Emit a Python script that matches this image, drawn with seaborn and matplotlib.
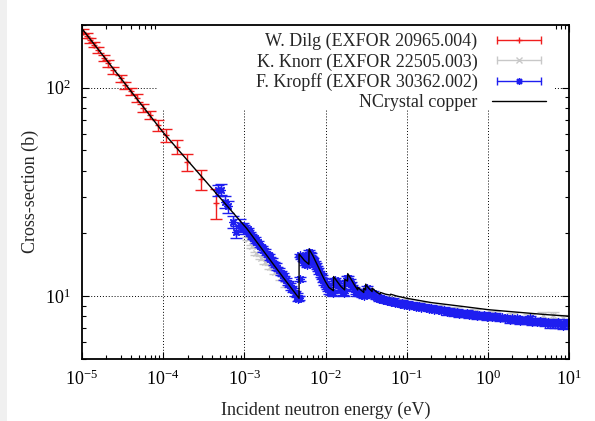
import matplotlib
matplotlib.use("Agg")
import matplotlib.pyplot as plt
from matplotlib.lines import Line2D
from matplotlib.patches import Rectangle
from matplotlib.legend_handler import HandlerLine2D, HandlerTuple
from matplotlib.ticker import FixedLocator, NullFormatter
import seaborn as sns

# ------------------------------------------
# DATA
# ------------------------------------------

# W. Dilg (EXFOR 20965.004)
dilg_e = [1.04e-5, 1.16e-5, 1.25e-5, 1.40e-5, 1.59e-5, 1.87e-5, 2.11e-5, 2.43e-5,
          3.02e-5, 3.39e-5, 3.97e-5, 4.72e-5, 5.69e-5, 6.87e-5, 8.72e-5, 1.08e-4,
          1.46e-4, 1.98e-4, 2.96e-4, 4.53e-4]
dilg_s = [186, 178, 169, 161, 152, 139, 131, 121, 111, 103, 96, 89, 80, 74, 66, 59,
          52, 44, 36.3, 27.9]
dilg_err = [5, 5, 5, 5, 5, 5, 5, 4.5, 4.5, 4, 4, 4, 3.5, 3.5, 4, 4, 4, 4, 4, 4.6]

# K. Knorr (EXFOR 22505.003)
knorr_e = [1.12e-3, 1.25e-3, 1.4e-3, 1.6e-3, 1.8e-3, 2.07e-3, 2.4e-3, 2.8e-3, 3.3e-3,
           0.06, 0.09, 0.15, 0.25, 0.4, 0.7, 1.2, 2.0, 3.2, 4.8, 6.4, 8.5]
knorr_s = [18.8, 17.3, 16.0, 15.3, 14.6, 13.8, 13.0, 12.3, 11.4,
           9.6, 9.4, 9.1, 8.8, 8.6, 8.4, 8.2, 8.0, 7.9, 8.1, 8.1, 7.8]
knorr_err = [0.3] * len(knorr_e)

# F. Kropff (EXFOR 30362.002)
kropff_e = [4.78e-4, 5.1e-4, 5.78e-4, 6.3e-4, 7.16e-4, 8.0e-4, 8.8e-4, 9.5e-4,
            1.00e-3, 1.05e-3, 1.10e-3, 1.16e-3, 1.22e-3, 1.28e-3, 1.34e-3, 1.41e-3,
            1.48e-3, 1.56e-3, 1.64e-3, 1.72e-3, 1.81e-3, 1.90e-3, 2.00e-3, 2.10e-3,
            2.21e-3, 2.32e-3, 2.44e-3, 2.56e-3, 2.69e-3, 2.83e-3, 2.97e-3, 3.12e-3,
            3.28e-3, 3.45e-3, 3.62e-3, 3.81e-3, 4.00e-3, 4.20e-3, 4.41e-3, 4.60e-3,
            4.70e-3, 4.80e-3, 4.92e-3, 5.05e-3, 5.20e-3, 5.35e-3, 5.50e-3, 5.66e-3,
            5.83e-3, 6.00e-3, 6.15e-3, 6.32e-3, 6.50e-3, 6.70e-3, 6.90e-3, 7.10e-3,
            7.35e-3, 7.60e-3, 7.85e-3, 8.10e-3, 8.40e-3, 8.70e-3, 9.00e-3, 9.35e-3,
            9.70e-3, 1.00e-2, 1.04e-2, 1.08e-2, 1.12e-2, 1.17e-2, 1.22e-2, 1.27e-2,
            1.32e-2, 1.37e-2, 1.43e-2, 1.49e-2, 1.55e-2, 1.62e-2, 1.69e-2, 1.75e-2,
            1.82e-2, 1.90e-2, 1.98e-2, 2.06e-2, 2.15e-2, 2.25e-2, 2.35e-2, 2.46e-2,
            2.57e-2, 2.69e-2, 2.81e-2, 2.94e-2, 3.07e-2, 3.20e-2, 3.35e-2, 3.50e-2,
            3.66e-2, 3.83e-2, 4.00e-2, 4.20e-2, 4.40e-2, 4.60e-2, 4.85e-2, 5.10e-2,
            5.40e-2, 5.70e-2, 6.00e-2, 6.40e-2, 6.80e-2, 7.20e-2, 7.70e-2, 8.20e-2,
            8.80e-2, 9.40e-2, 0.100, 0.107, 0.115, 0.123, 0.132, 0.142, 0.152, 0.163,
            0.175, 0.188, 0.202, 0.217, 0.233, 0.250, 0.268, 0.288, 0.310, 0.333,
            0.358, 0.385, 0.413, 0.444, 0.477, 0.512, 0.550, 0.591, 0.635, 0.682,
            0.733, 0.787, 0.846, 0.909, 0.976, 1.05, 1.13, 1.21, 1.30, 1.40, 1.50,
            1.61, 1.73, 1.86, 2.00, 2.15, 2.31, 2.48, 2.66, 2.86, 3.07, 3.30, 3.55,
            3.81, 4.09, 4.40, 4.72, 5.07, 5.45, 5.86, 6.29, 6.76, 7.26, 7.80, 8.38,
            9.00, 9.67, 10.0]
kropff_s = [32.1, 32.4, 28.3, 26.9, 22.7, 20.3, 21.9, 21.1,
            21.6, 20.6, 20.9, 20.0, 19.7, 19.0, 18.9, 18.2,
            18.1, 17.4, 17.2, 16.6, 16.5, 15.9, 15.7, 15.1,
            14.9, 14.3, 14.1, 13.6, 13.4, 12.9, 12.7, 12.2,
            12.0, 11.5, 11.3, 10.9, 10.7, 10.3, 10.1, 9.7,
            9.8, 12.1, 15.7, 15.3, 15.4, 14.9, 14.8, 14.4,
            14.4, 14.1, 14.5, 16.3, 16.0, 15.8, 15.2, 15.0,
            14.5, 14.2, 13.7, 13.4, 13.0, 12.6, 12.3, 11.9,
            11.6, 11.3, 11.0, 10.8, 10.5, 10.4, 10.3, 11.8,
            12.0, 11.6, 11.3, 10.9, 10.7, 10.4, 10.3, 11.6,
            12.2, 12.2, 11.8, 11.4, 11.1, 10.8, 10.5, 10.3,
            10.5, 10.3, 10.1, 10.0, 10.5, 10.9, 10.6, 10.3,
            10.1, 10.3, 10.1, 9.9, 9.9, 9.7, 9.8, 9.6,
            9.6, 9.5, 9.5, 9.4, 9.5, 9.3, 9.3, 9.2,
            9.3, 9.1, 9.2, 9.0, 9.1, 9.0, 8.9, 9.0, 8.8, 8.9,
            8.8, 8.7, 8.8, 8.6, 8.7, 8.6, 8.5, 8.6, 8.4, 8.5,
            8.4, 8.3, 8.4, 8.2, 8.3, 8.2, 8.3, 8.1, 8.2, 8.1,
            8.0, 8.1, 8.0, 8.1, 7.9, 8.0, 7.9, 8.0, 7.9, 7.8, 7.9,
            7.8, 7.8, 7.7, 7.8, 7.7, 7.8, 7.6, 7.7, 7.7, 7.6, 7.8, 7.5,
            7.6, 7.5, 7.6, 7.5, 7.4, 7.5, 7.3, 7.4, 7.3, 7.5, 7.3, 7.2,
            7.3, 7.4, 7.5]
kropff_err = [2.0, 2.0, 1.8, 1.8, 1.5, 1.4, 1.4, 1.3] + [0.25] * (len(kropff_e) - 8)

# NCrystal copper
ncrystal_e = [1e-5, 1e-4, 1.07e-3, 2e-3, 3e-3, 4.72e-3, 4.73e-3, 5.0e-3, 5.5e-3,
              6.24e-3, 6.27e-3, 7e-3, 8e-3, 9e-3, 1e-2, 1.1e-2, 1.25e-2, 1.26e-2,
              1.4e-2, 1.55e-2, 1.72e-2, 1.73e-2, 1.87e-2, 1.88e-2, 2.1e-2, 2.3e-2,
              2.49e-2, 2.5e-2, 2.96e-2, 2.97e-2, 3.12e-2, 3.13e-2, 3.4e-2, 3.75e-2,
              3.76e-2, 4.2e-2, 4.7e-2, 4.75e-2, 5.5e-2, 6.3e-2, 6.35e-2, 7.5e-2,
              0.1, 0.2, 0.5, 1, 2, 5, 10]
ncrystal_s = [192, 61, 21.1, 15.2, 12.3, 9.75, 15.9, 15.5, 14.8,
              14.2, 16.8, 15.6, 14.0, 12.7, 11.7, 11.0, 10.6, 12.4,
              11.7, 11.1, 10.7, 12.0, 11.8, 12.8, 11.9, 11.2,
              10.7, 11.0, 10.4, 10.9, 10.7, 11.4, 10.9, 10.5,
              10.9, 10.5, 10.2, 10.4, 10.2, 10.1, 10.2, 10.0,
              9.75, 9.3, 8.9, 8.6, 8.4, 8.15, 8.0]

labels = ["W. Dilg (EXFOR 20965.004)", "K. Knorr (EXFOR 22505.003)",
          "F. Kropff (EXFOR 30362.002)", "NCrystal copper"]

x_decades = [1e-5, 1e-4, 1e-3, 1e-2, 1e-1, 1, 10]
y_decades = [10, 100]

RED = "#f01e1e"
GRAY = "#c8c8c8"
BLUE = "#1e1ef0"

# ------------------------------------------
# STYLE
# ------------------------------------------

sns.set_theme(style="ticks")
plt.rcParams["font.family"] = ["Liberation Serif", "DejaVu Serif"]
plt.rcParams["mathtext.fontset"] = "custom"
plt.rcParams["mathtext.rm"] = "Liberation Serif"
plt.rcParams["mathtext.it"] = "Liberation Serif:italic"
plt.rcParams["font.size"] = 13

fig = plt.figure(figsize=(5.95, 4.21), dpi=100)
fig.patches.append(Rectangle((0, 0), 7 / 595, 1, transform=fig.transFigure,
                             facecolor="#f0f0f0", edgecolor="none", zorder=-1))
ax = fig.add_axes([82 / 595, 1 - 358.7 / 421, 487 / 595, 333.7 / 421])
ax.set_xscale("log")
ax.set_yscale("log")

# dotted grid at decades, hidden behind the key area
for xv in x_decades[1:-1]:
    ax.axvline(xv, color="black", lw=0.7, ls=(0, (1, 2)), zorder=0.5)
for yv in y_decades:
    ax.axhline(yv, color="black", lw=0.7, ls=(0, (1, 2)), zorder=0.5)
ax.add_patch(Rectangle((0.154, 0.745), 0.817, 0.26, transform=ax.transAxes,
                       facecolor="white", edgecolor="none", zorder=0.8))

# ------------------------------------------
# DATA SERIES
# ------------------------------------------

ax.errorbar(dilg_e, dilg_s, yerr=dilg_err, fmt="none", ecolor=RED, elinewidth=1,
            capsize=4.5, capthick=1, zorder=2)
sns.scatterplot(x=dilg_e, y=dilg_s, marker="+", s=25, color=RED, linewidth=1, ax=ax, zorder=2.1)

ax.errorbar(knorr_e, knorr_s, yerr=knorr_err, fmt="none", ecolor=GRAY, elinewidth=1,
            capsize=4.5, capthick=1, zorder=2.2)
sns.scatterplot(x=knorr_e, y=knorr_s, marker="x", s=20, color=GRAY, linewidth=1, ax=ax, zorder=2.3)

ax.errorbar(kropff_e, kropff_s, yerr=kropff_err, fmt="none", ecolor=BLUE, elinewidth=1,
            capsize=4.5, capthick=1, zorder=2.4)
sns.scatterplot(x=kropff_e, y=kropff_s, marker=(8, 2, 0), s=28, color=BLUE,
                edgecolor=BLUE, linewidth=1, ax=ax, zorder=2.5)

sns.lineplot(x=ncrystal_e, y=ncrystal_s, color="black", lw=1, sort=False,
             estimator=None, ax=ax, zorder=3)

# ------------------------------------------
# AXES
# ------------------------------------------

ax.set_xlim(1e-5, 10)
ax.set_ylim(5, 200)
ax.xaxis.set_major_locator(FixedLocator(x_decades))
ax.xaxis.set_minor_locator(FixedLocator([m * d for d in x_decades[:-1] for m in range(2, 10)]))
ax.yaxis.set_major_locator(FixedLocator(y_decades))
ax.yaxis.set_minor_locator(FixedLocator([m * d for d in [1] + y_decades for m in range(2, 10)
                                         if 5 <= m * d <= 200]))
ax.xaxis.set_minor_formatter(NullFormatter())
ax.yaxis.set_minor_formatter(NullFormatter())
ax.tick_params(which="both", direction="in", top=True, right=True, width=0.8,
               colors="black", labelsize=13)
ax.tick_params(which="major", length=5, pad=8)
ax.tick_params(which="minor", length=3)
for sp in ax.spines.values():
    sp.set_linewidth(1.3)
    sp.set_color("black")

ax.set_xlabel("Incident neutron energy (eV)", fontsize=13, labelpad=9)
ax.set_ylabel("Cross-section (b)", fontsize=13)
ax.yaxis.set_label_coords(-0.088, 0.5)

# ------------------------------------------
# KEY (gnuplot style: text then sample)
# ------------------------------------------

handles = []
hmap = {tuple: HandlerTuple(ndivide=1)}
for col, mk, ms in [(RED, "+", 5), (GRAY, "x", 4), (BLUE, (8, 2, 0), 5)]:
    cap = Line2D([], [], color=col, lw=1, marker="|", ms=6, mew=1)
    mid = Line2D([], [], color=col, lw=0, marker=mk, ms=ms, mew=1)
    hmap[cap] = HandlerLine2D(numpoints=2)
    handles.append((cap, mid))
handles.append(Line2D([], [], color="black", lw=1))

ax.legend(handles, labels, handler_map=hmap, loc="upper right",
          bbox_to_anchor=(0.953, 0.976), frameon=False, markerfirst=False,
          handlelength=3, handletextpad=0.8, borderpad=0, borderaxespad=0,
          labelspacing=0.16, fontsize=13)

fig.savefig("out.png", dpi=100)
